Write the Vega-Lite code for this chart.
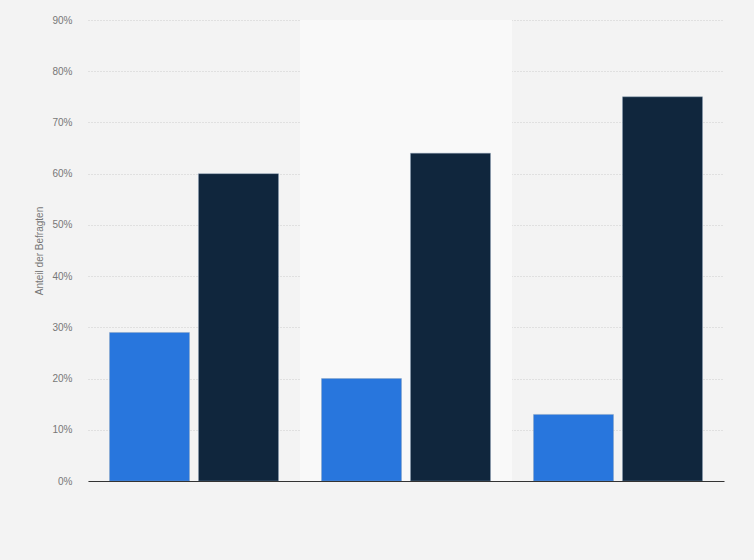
{
  "$schema": "https://vega.github.io/schema/vega-lite/v6.json",
  "width": 636,
  "height": 461,
  "autosize": {"type": "none"},
  "padding": {"left": 88, "top": 20, "right": 30, "bottom": 79},
  "background": "#f3f3f3",
  "config": {
    "view": {"stroke": null},
    "font": "Liberation Sans"
  },
  "datasets": {
    "bars": [
      {"kategorie": "A", "gruppe": "1", "anteil": 29},
      {"kategorie": "A", "gruppe": "2", "anteil": 60},
      {"kategorie": "B", "gruppe": "1", "anteil": 20},
      {"kategorie": "B", "gruppe": "2", "anteil": 64},
      {"kategorie": "C", "gruppe": "1", "anteil": 13},
      {"kategorie": "C", "gruppe": "2", "anteil": 75}
    ],
    "bands": [
      {"kategorie": "B"}
    ]
  },
  "layer": [
    {
      "data": {"name": "bands"},
      "mark": {"type": "rect", "color": "#f9f9f9"},
      "encoding": {
        "x": {"field": "kategorie", "type": "nominal", "scale": {"domain": ["A", "B", "C"], "paddingInner": 0, "paddingOuter": 0},
          "axis": {"title": null, "labels": false, "ticks": false, "domain": true, "domainColor": "#333333", "domainWidth": 1.2, "grid": false}},
        "y": {"datum": 0, "type": "quantitative"},
        "y2": {"datum": 90}
      }
    },
    {
      "data": {"name": "bars"},
      "mark": {"type": "bar", "strokeWidth": 0.8, "strokeOpacity": 0.5, "stroke": "#8aa0b8"},
      "encoding": {
        "x": {
          "field": "kategorie", "type": "nominal",
          "scale": {"domain": ["A", "B", "C"], "paddingInner": 0, "paddingOuter": 0},
          "axis": {"title": null, "labels": false, "ticks": false, "domain": true, "domainColor": "#333333", "domainWidth": 1.2, "grid": false}
        },
        "xOffset": {
          "field": "gruppe", "type": "nominal",
          "scale": {"paddingInner": 0.101, "paddingOuter": 0.2416}
        },
        "y": {
          "field": "anteil", "type": "quantitative",
          "scale": {"domain": [0, 90], "nice": false},
          "axis": {
            "title": "Anteil der Befragten",
            "titleFontSize": 10,
            "titleFontWeight": "normal",
            "titleColor": "#777777",
            "titlePadding": 7,
            "values": [0, 10, 20, 30, 40, 50, 60, 70, 80, 90],
            "labelExpr": "datum.value + '%'",
            "labelFontSize": 10,
            "labelColor": "#777777",
            "labelPadding": 16,
            "ticks": false,
            "domain": false,
            "grid": true,
            "gridColor": "#cccccc",
            "gridDash": [1, 2],
            "gridWidth": 1
          }
        },
        "color": {
          "field": "gruppe", "type": "nominal",
          "scale": {"domain": ["1", "2"], "range": ["#2876dd", "#10263d"]},
          "legend": null
        }
      }
    }
  ]
}
